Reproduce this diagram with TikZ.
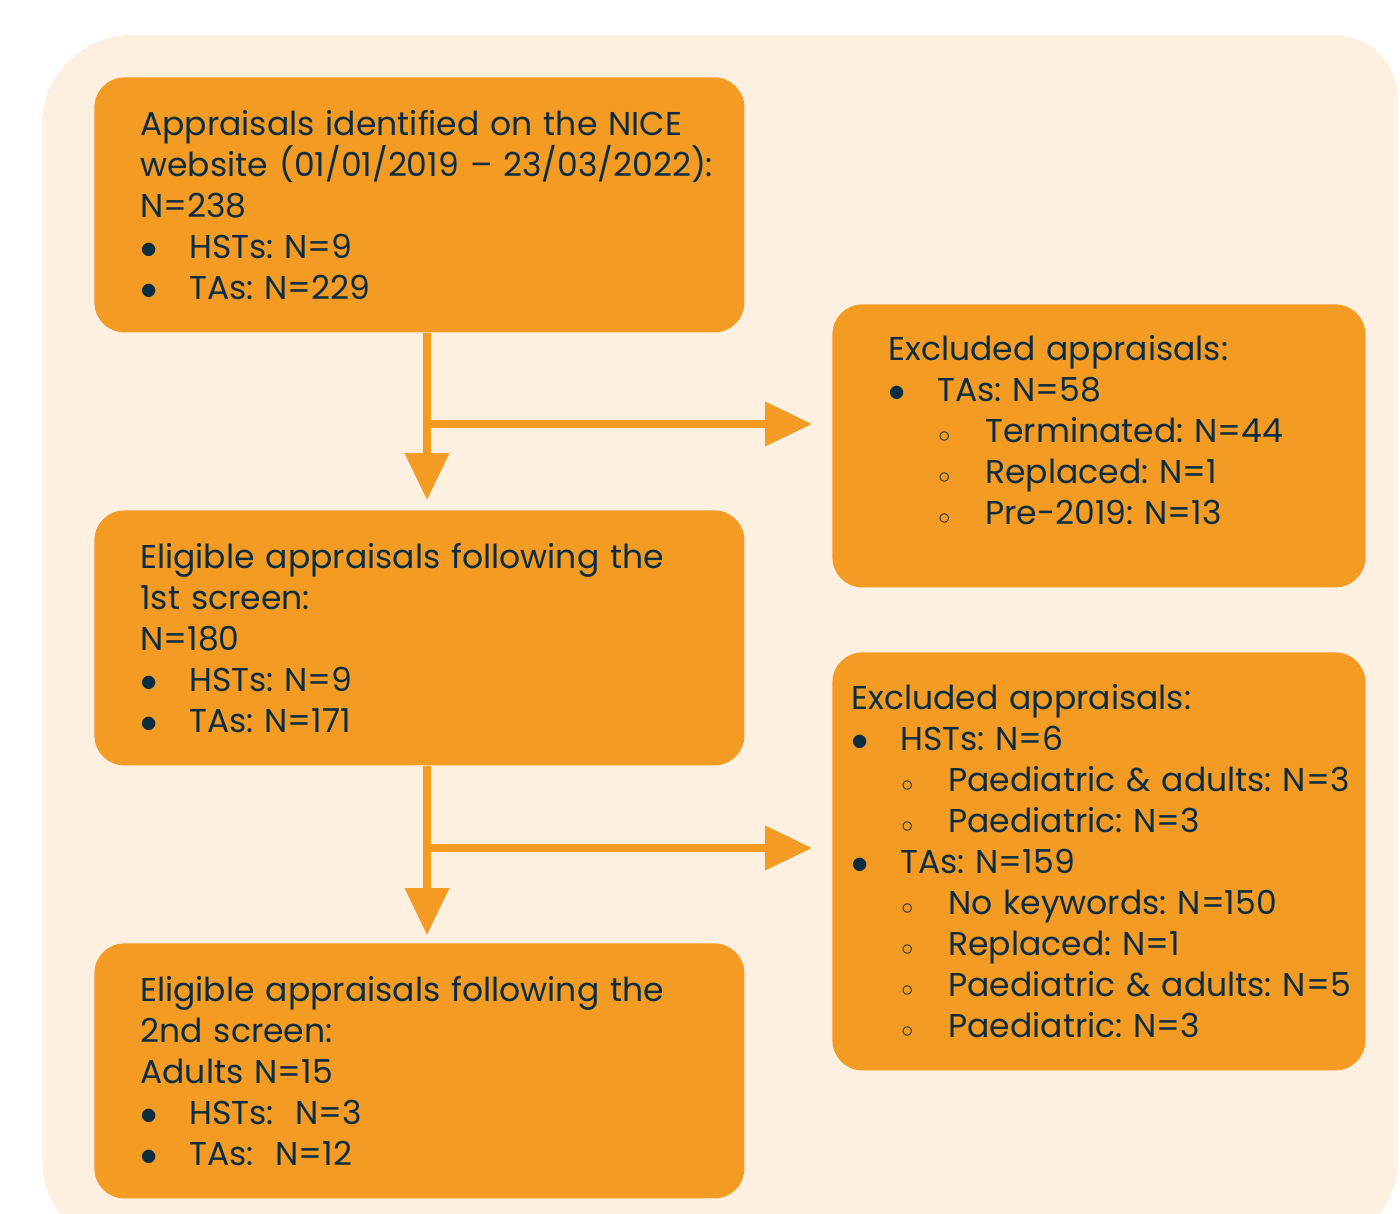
\documentclass[tikz,border=0pt]{standalone}
\usepackage{fontspec}
\setmainfont{Poppins}
\usetikzlibrary{calc}
\usetikzlibrary{arrows.meta}
\definecolor{cream}{HTML}{FDF0E1}
\definecolor{boxorange}{HTML}{F49B23}
\definecolor{navy}{HTML}{0B2D42}
\newcommand{\bl}[1]{\mbox{\makebox[24.5pt][l]{$\bullet$}#1}}
\newcommand{\sbl}[1]{\mbox{\hspace*{25pt}\makebox[23.5pt][l]{$\scriptstyle\circ$}#1}}
\tikzset{
  box/.style={fill=boxorange, rounded corners=15pt, anchor=north west,
    align=left, text=navy, inner ysep=0pt,
    font=\fontsize{16.5pt}{20.5pt}\selectfont\frenchspacing},
  flow/.style={boxorange, line width=3.75pt,
    -{Triangle[width=21.5pt,length=23.5pt]}}
}

\begin{document}
\begin{tikzpicture}[x=0.5pt,y=-0.5pt]
\clip (0,0) rectangle (1400,1213);
\fill[cream] (42,1250) [rounded corners=45pt] -- (42,35) [rounded corners=32pt] -- (1398,35) [rounded corners=45pt] -- (1398,1250) -- cycle;
% left column
\node[box, minimum width=325pt, minimum height=127.5pt, inner xsep=23pt, text width=279pt] (b1) at (94,77)
  {Appraisals identified on the NICE\\ \mbox{website (01/01/2019 -- 23/03/2022):}\\ N=238\\ \bl{HSTs: N=9}\\ \bl{TAs: N=229}};
\node[box, minimum width=325pt, minimum height=127.5pt, inner xsep=23pt, text width=279pt] (b2) at (94,510)
  {Eligible appraisals following the\\ 1st screen:\\ N=180\\ \bl{HSTs: N=9}\\ \bl{TAs: N=171}};
\node[box, minimum width=325pt, minimum height=127.5pt, inner xsep=23pt, text width=279pt] (b3) at (94,943)
  {Eligible appraisals following the\\ 2nd screen:\\ Adults N=15\\ \bl{HSTs:\ \ N=3}\\ \bl{TAs:\ \ N=12}};
% right column
\node[box, minimum width=266.5pt, minimum height=141.5pt, inner xsep=28pt, text width=210.5pt] (b4) at (832,304)
  {Excluded appraisals:\\ \bl{TAs: N=58}\\ \sbl{Terminated: N=44}\\ \sbl{Replaced: N=1}\\ \sbl{Pre-2019: N=13}\\[-5pt]\mbox{}};
\node[box, minimum width=266.5pt, minimum height=209pt, inner xsep=9.5pt, text width=247.5pt] (b5) at (832,652)
  {Excluded appraisals:\\ \bl{HSTs: N=6}\\ \sbl{Paediatric \& adults: N=3}\\ \sbl{Paediatric: N=3}\\ \bl{TAs: N=159}\\
   \sbl{No keywords: N=150}\\ \sbl{Replaced: N=1}\\ \sbl{Paediatric \& adults: N=5}\\ \sbl{Paediatric: N=3}};
% arrows
\coordinate (j1) at (427,424);
\coordinate (j2) at (427,848);
\draw[flow, shorten >=5pt] (b1.south -| j1) -- (b2.north -| j1);
\draw[flow, shorten >=10pt] (j1) -- (j1 -| b4.west);
\draw[flow, shorten >=4pt] (b2.south -| j2) -- (b3.north -| j2);
\draw[flow, shorten >=10pt] (j2) -- (j2 -| b5.west);
\end{tikzpicture}
\end{document}
